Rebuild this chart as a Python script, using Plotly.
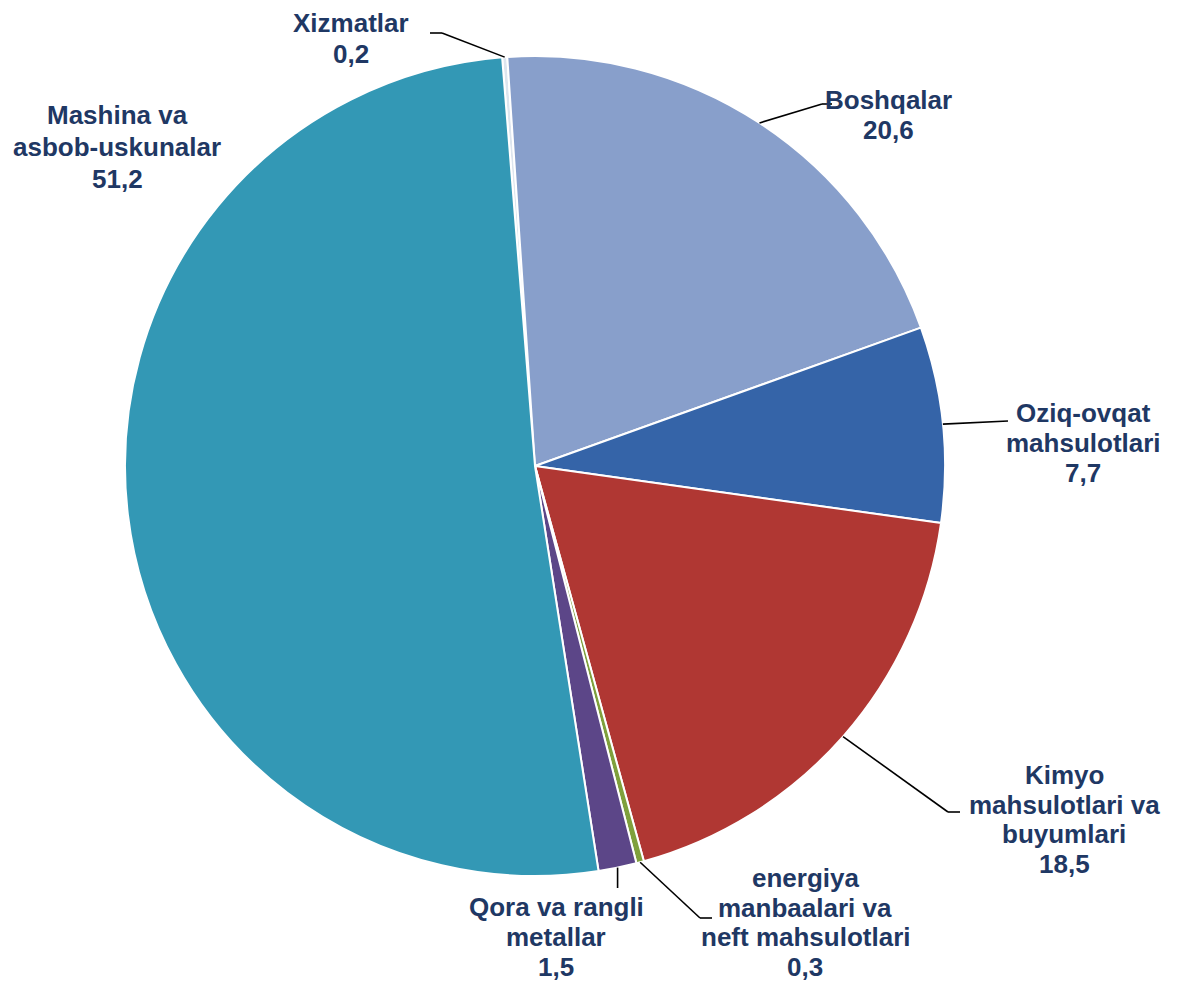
import math
import plotly.graph_objects as go

# ---- data ----
categories = ["Xizmatlar", "Boshqalar", "Oziq-ovqat mahsulotlari", "Kimyo mahsulotlari va buyumlari",
              "energiya manbaalari va neft mahsulotlari", "Qora va rangli metallar", "Mashina va asbob-uskunalar"]
values = [0.2, 20.6, 7.7, 18.5, 0.3, 1.5, 51.2]
label_lines = [
    ["Xizmatlar"],
    ["Boshqalar"],
    ["Oziq-ovqat", "mahsulotlari"],
    ["Kimyo", "mahsulotlari va", "buyumlari"],
    ["energiya", "manbaalari va", "neft mahsulotlari"],
    ["Qora va rangli", "metallar"],
    ["Mashina va", "asbob-uskunalar"],
]
value_texts = ["0,2", "20,6", "7,7", "18,5", "0,3", "1,5", "51,2"]
colors = ["#DDE5EE", "#889FCB", "#3564A8", "#B03733", "#7FA03C", "#5C4688", "#3398B5"]

# ---- layout geometry (window pixels) ----
OFF = 8                      # page body margin
W, H = 1179 - OFF, 987 - OFF
CX, CY, R = 535, 466, 410
ROTATION = -4.6
TEXT_COLOR = "#1F3864"
FONT = "Liberation Sans, Arial, sans-serif"
FONT_SIZE = 26

# label: centre x, first line centre y, line spacing (px)
label_pos = [(351, 23, 31), (888, 100, 30), (1083, 413, 30), (1064, 775, 29.5),
             (805, 878, 29.5), (556, 907, 30), (117, 115, 32)]
leaders = [
    [(442, 33), (430, 33)],
    [(822, 104), (832, 104)],
    [(1008, 421)],
    [(948, 812), (960, 812)],
    [(700, 918), (712, 918)],
    "vertical",
    None,
]


def px(x, y):
    return (x - OFF) / W, 1 - (y - OFF) / H


fig = go.Figure()
fig.add_trace(go.Pie(
    labels=categories, values=values, sort=False, direction="clockwise",
    rotation=ROTATION, textinfo="none", hoverinfo="label+value",
    marker=dict(colors=colors, line=dict(color="white", width=2)),
    domain=dict(x=[(CX - R - OFF) / W, (CX + R - OFF) / W],
                y=[1 - (CY + R - OFF) / H, 1 - (CY - R - OFF) / H]),
    showlegend=False,
))

total = sum(values)
shapes = []
annotations = []
cum = ROTATION
for i, v in enumerate(values):
    mid = cum + v / total * 360 / 2
    cum += v / total * 360
    a = math.radians(mid)
    sx, sy = CX + R * math.sin(a), CY - R * math.cos(a)
    ld = leaders[i]
    if ld == "vertical":
        pts = [(sx, sy), (sx, 888)]
    elif ld:
        pts = [(sx, sy)] + ld
    else:
        pts = None
    if pts:
        for (x0, y0), (x1, y1) in zip(pts[:-1], pts[1:]):
            p0, p1 = px(x0, y0), px(x1, y1)
            shapes.append(dict(type="line", xref="paper", yref="paper",
                               x0=p0[0], y0=p0[1], x1=p1[0], y1=p1[1],
                               line=dict(color="black", width=1.6)))
    lx, ly, sp = label_pos[i]
    for j, line in enumerate(label_lines[i] + [value_texts[i]]):
        p = px(lx, ly + j * sp)
        annotations.append(dict(
            x=p[0], y=p[1], xref="paper", yref="paper", xanchor="center", yanchor="middle",
            showarrow=False, text=line,
            font=dict(family=FONT, size=FONT_SIZE, color=TEXT_COLOR, weight="bold"),
        ))

fig.update_layout(
    width=W, height=H, margin=dict(l=0, r=0, t=0, b=0),
    paper_bgcolor="white", plot_bgcolor="white",
    shapes=shapes, annotations=annotations,
)
fig.write_html("out.html")
